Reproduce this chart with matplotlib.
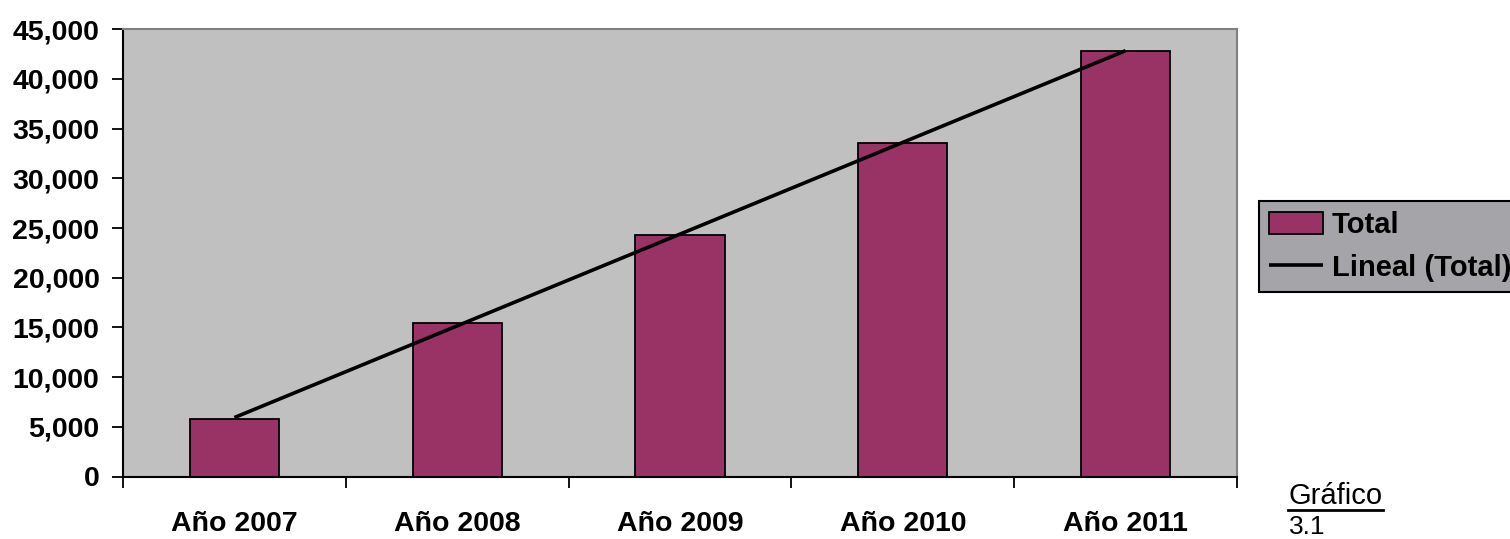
import numpy as np
import matplotlib
matplotlib.use("Agg")
import matplotlib.pyplot as plt
from matplotlib.ticker import FuncFormatter
from matplotlib.lines import Line2D

categories = ["Año 2007", "Año 2008", "Año 2009", "Año 2010", "Año 2011"]
totals = [5800, 15400, 24300, 33600, 42850]
y_ticks = [0, 5000, 10000, 15000, 20000, 25000, 30000, 35000, 40000, 45000]
series_label = "Total"
trend_label = "Lineal (Total)"

plt.rcParams['font.family'] = ['Liberation Sans', 'DejaVu Sans']

fig = plt.figure(figsize=(15.1, 5.39), dpi=100)
fig.patch.set_facecolor('white')
ax = fig.add_axes([123/1510, 1 - 476.5/539, (1237-123)/1510, (476.5-29.3)/539])
ax.set_facecolor('#C0C0C0')

x = np.arange(len(categories))
bars = ax.bar(x, totals, width=0.40, color='#993366', edgecolor='black', linewidth=1.3,
              label=series_label, zorder=2)
coef = np.polyfit(x, totals, 1)
line, = ax.plot(x, np.polyval(coef, x), color='black', linewidth=2.6, label=trend_label,
                zorder=3, solid_capstyle='butt')

ax.set_xlim(-0.5, len(categories) - 0.5)
ax.set_ylim(0, 45000)
ax.set_yticks(y_ticks)
ax.yaxis.set_major_formatter(FuncFormatter(lambda v, p: f"{int(v):,}"))

ax.set_xticks(np.arange(-0.5, len(categories), 1.0))
ax.set_xticklabels([])
ax.set_xticks(x, minor=True)
ax.set_xticklabels(categories, minor=True)
ax.tick_params(axis='x', which='major', direction='out', length=8, width=1.3, color='black')
ax.tick_params(axis='x', which='minor', length=0, pad=25, labelsize=20.5)
ax.tick_params(axis='y', direction='out', length=8, width=1.3, pad=9, labelsize=20.5)
for lbl in ax.get_yticklabels() + ax.get_xticklabels(minor=True):
    lbl.set_fontweight('bold')

ax.spines['left'].set_color('black')
ax.spines['bottom'].set_color('black')
ax.spines['left'].set_linewidth(1.5)
ax.spines['bottom'].set_linewidth(1.5)
ax.spines['top'].set_color('#808080')
ax.spines['right'].set_color('#808080')
ax.spines['top'].set_linewidth(1.5)
ax.spines['right'].set_linewidth(1.5)

leg = fig.legend([bars, line], [series_label, trend_label],
                 loc='upper left', bbox_to_anchor=(1259/1510, 1 - 201/539),
                 bbox_transform=fig.transFigure, frameon=True, fancybox=False,
                 prop={'weight': 'bold', 'size': 21}, handlelength=1.85,
                 handletextpad=0.3, borderpad=0.35, labelspacing=0.5, borderaxespad=0,
                 handleheight=0.75)
leg.get_frame().set_facecolor('#A5A4A8')
leg.get_frame().set_edgecolor('black')
leg.get_frame().set_linewidth(1.5)
leg.get_frame().set_alpha(1)

fig.text(1288/1510, 1 - 504/539, "Gráfico", fontsize=21, ha='left', va='baseline')
fig.add_artist(Line2D([1288/1510, 1383/1510], [1 - 510/539, 1 - 510/539],
                      color='black', linewidth=2.0, transform=fig.transFigure))
fig.text(1289/1510, 1 - 534/539, "3.1", fontsize=19, ha='left', va='baseline')

fig.savefig("out.png", dpi=100)
